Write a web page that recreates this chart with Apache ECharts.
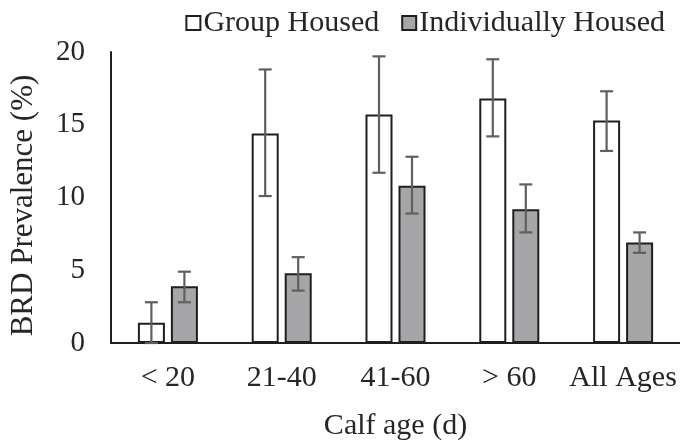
<!DOCTYPE html>
<html>
<head>
<meta charset="utf-8">
<script src="https://cdn.jsdelivr.net/npm/echarts@6/dist/echarts.min.js"></script>
<style>
html,body{margin:0;padding:0;background:#fff;}
#chart{width:680px;height:446px;}
</style>
</head>
<body>
<div id="chart"></div>
<script>
var categories = ['< 20', '21-40', '41-60', '> 60', 'All Ages'];
var groupHoused = [1.4, 14.4, 15.7, 16.8, 15.3];
var groupLow = [0, 10.1, 11.7, 14.2, 13.2];
var groupHigh = [2.8, 18.8, 19.7, 19.5, 17.3];
var indivHoused = [3.9, 4.8, 10.8, 9.2, 6.9];
var indivLow = [2.8, 3.6, 8.9, 7.6, 6.2];
var indivHigh = [4.9, 5.9, 12.8, 10.9, 7.6];
var yTicks = [0, 5, 10, 15, 20];

var FONT = "'Liberation Serif', 'Times New Roman', serif";
var TEXT = '#262626';
var BAR_W = 27;
var BAR_GAP_PX = 6;

function errorSeries(low, high, dir) {
  var data = categories.map(function (c, i) { return [i, low[i], high[i]]; });
  return {
    type: 'custom',
    z: 10,
    silent: true,
    data: data,
    encode: { x: 0, y: [1, 2] },
    renderItem: function (params, api) {
      var i = api.value(0);
      var lo = api.coord([i, api.value(1)]);
      var hi = api.coord([i, api.value(2)]);
      var x = lo[0] + dir * (BAR_W + BAR_GAP_PX) / 2;
      var cap = 6.5;
      var st = { stroke: '#5f5f5f', lineWidth: 2.2 };
      return {
        type: 'group',
        children: [
          { type: 'line', shape: { x1: x, y1: hi[1], x2: x, y2: lo[1] }, style: st },
          { type: 'line', shape: { x1: x - cap, y1: hi[1], x2: x + cap, y2: hi[1] }, style: st },
          { type: 'line', shape: { x1: x - cap, y1: lo[1], x2: x + cap, y2: lo[1] }, style: st }
        ]
      };
    }
  };
}

var chart = echarts.init(document.getElementById('chart'), null, { renderer: 'canvas' });
chart.setOption({
  animation: false,
  backgroundColor: '#ffffff',
  textStyle: { fontFamily: FONT },
  legend: {
    data: ['Group Housed', 'Individually Housed'],
    top: 3,
    right: 10,
    icon: 'rect',
    itemWidth: 14,
    itemHeight: 14,
    itemGap: 22,
    textStyle: { fontFamily: FONT, fontSize: 30, color: TEXT, padding: [0, 0, 0, -2] }
  },
  grid: { left: 109, right: 0, top: 52, bottom: 99, containLabel: false },
  xAxis: {
    type: 'category',
    data: categories,
    name: 'Calf age (d)',
    nameLocation: 'middle',
    nameGap: 68,
    nameTextStyle: { fontFamily: FONT, fontSize: 30, color: TEXT },
    axisLine: { show: true, lineStyle: { color: '#1f1f1f', width: 2 } },
    axisTick: { show: false },
    axisLabel: { interval: 0, fontFamily: FONT, fontSize: 30, color: TEXT, margin: 20 },
    splitLine: { show: false }
  },
  yAxis: {
    type: 'value',
    min: 0,
    max: 20,
    interval: 5,
    name: 'BRD Prevalence (%)',
    nameLocation: 'middle',
    nameRotate: 90,
    nameGap: 72,
    nameTextStyle: { fontFamily: FONT, fontSize: 31, color: TEXT, padding: [0, 16, 0, 0] },
    axisLine: { show: true, lineStyle: { color: '#1f1f1f', width: 2 } },
    axisTick: { show: false },
    axisLabel: {
      fontFamily: FONT, fontSize: 29, color: TEXT, margin: 26,
      formatter: function (v) { return yTicks.indexOf(v) >= 0 ? String(v) : ''; }
    },
    splitLine: { show: false }
  },
  series: [
    {
      name: 'Group Housed',
      type: 'bar',
      data: groupHoused,
      barWidth: BAR_W,
      barGap: (BAR_GAP_PX / BAR_W * 100) + '%',
      itemStyle: { color: '#ffffff', borderColor: '#1f1f1f', borderWidth: 2 }
    },
    {
      name: 'Individually Housed',
      type: 'bar',
      data: indivHoused,
      barWidth: BAR_W,
      itemStyle: { color: '#a6a6a8', borderColor: '#1f1f1f', borderWidth: 2 }
    },
    errorSeries(groupLow, groupHigh, -1),
    errorSeries(indivLow, indivHigh, 1)
  ]
});
</script>
</body>
</html>
